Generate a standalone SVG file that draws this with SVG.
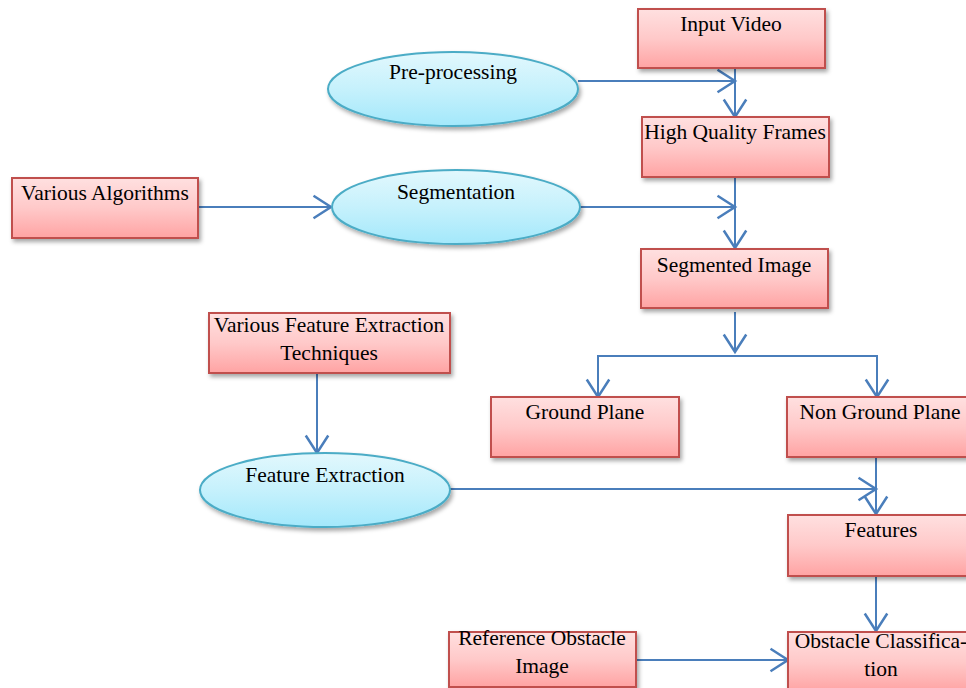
<svg xmlns="http://www.w3.org/2000/svg" width="966" height="688" viewBox="0 0 966 688">
<defs>
<linearGradient id="gr" x1="0" y1="0" x2="0" y2="1"><stop offset="0" stop-color="#ffe0e0"/><stop offset="0.5" stop-color="#ffc9c9"/><stop offset="1" stop-color="#ffa3a3"/></linearGradient>
<linearGradient id="gb" x1="0" y1="0" x2="0" y2="1"><stop offset="0" stop-color="#e2f8fd"/><stop offset="0.5" stop-color="#c6f1fc"/><stop offset="1" stop-color="#a3e8fb"/></linearGradient>
<filter id="sh" x="-10%" y="-20%" width="130%" height="150%"><feDropShadow dx="2" dy="3" stdDeviation="2" flood-color="#000" flood-opacity="0.35"/></filter>
<marker id="ar" markerUnits="userSpaceOnUse" markerWidth="30" markerHeight="30" refX="0" refY="0" viewBox="-16 -12 18 24" orient="auto" overflow="visible"><path d="M-14,-9 L0,0 L-14,9" fill="none" stroke="#4a7ebb" stroke-width="2"/></marker>
</defs>
<style>
.box{fill:url(#gr);stroke:#c0504d;stroke-width:2;filter:url(#sh)}
.ell{fill:url(#gb);stroke:#4bacc6;stroke-width:2;filter:url(#sh)}
.t{font-size:21.5px;fill:#000;text-anchor:middle}
.c{fill:none;stroke:#4a7ebb;stroke-width:2;marker-end:url(#ar)}
</style>
<rect width="966" height="688" fill="#fff"/>
<g id="connectors">
<path class="c" d="M578,81 H735"/>
<path class="c" d="M735,68 V117"/>
<path class="c" d="M198,207 H331"/>
<path class="c" d="M580,207 H735"/>
<path class="c" d="M735,177 V248"/>
<path class="c" d="M735,312 V352"/>
<path class="c" d="M735,356 H598 V397"/>
<path class="c" d="M735,356 H877 V397"/>
<path class="c" d="M317,373 V453"/>
<path class="c" d="M450,489 H876"/>
<path class="c" d="M876,457 V514"/>
<path class="c" d="M876,576 V631"/>
<path class="c" d="M636,660 H788"/>
</g>
<g font-family="'Liberation Serif', serif">
<g id="input-video"><rect class="box" x="638" y="9" width="187" height="59"/><text class="t" x="731" y="31">Input Video</text></g>
<g id="high-quality-frames"><rect class="box" x="642" y="117" width="187" height="60"/><text class="t" x="735" y="139">High Quality Frames</text></g>
<g id="pre-processing"><ellipse class="ell" cx="453" cy="89" rx="125" ry="37"/><text class="t" x="453" y="79">Pre-processing</text></g>
<g id="various-algorithms"><rect class="box" x="12" y="178" width="186" height="60"/><text class="t" x="105" y="200">Various Algorithms</text></g>
<g id="segmentation"><ellipse class="ell" cx="456" cy="207" rx="124" ry="37"/><text class="t" x="456" y="199">Segmentation</text></g>
<g id="segmented-image"><rect class="box" x="641" y="249" width="187" height="59"/><text class="t" x="734" y="272">Segmented Image</text></g>
<g id="ground-plane"><rect class="box" x="491" y="397" width="188" height="60"/><text class="t" x="585" y="419">Ground Plane</text></g>
<g id="non-ground-plane"><rect class="box" x="787" y="397" width="187" height="60"/><text class="t" x="880" y="419">Non Ground Plane</text></g>
<g id="various-feature-extraction"><rect class="box" x="209" y="313" width="241" height="60"/><text class="t" x="329" y="332">Various Feature Extraction</text><text class="t" x="329" y="360">Techniques</text></g>
<g id="feature-extraction"><ellipse class="ell" cx="325" cy="490" rx="125" ry="37"/><text class="t" x="325" y="482">Feature Extraction</text></g>
<g id="features"><rect class="box" x="788" y="515" width="187" height="61"/><text class="t" x="881" y="537">Features</text></g>
<g id="reference-obstacle-image"><rect class="box" x="449" y="632" width="187" height="55"/><text class="t" x="542" y="645">Reference Obstacle</text><text class="t" x="542" y="673">Image</text></g>
<g id="obstacle-classification"><rect class="box" x="788" y="632" width="187" height="60"/><text class="t" x="881" y="648">Obstacle Classifica-</text><text class="t" x="881" y="676">tion</text></g>
</g>
</svg>
